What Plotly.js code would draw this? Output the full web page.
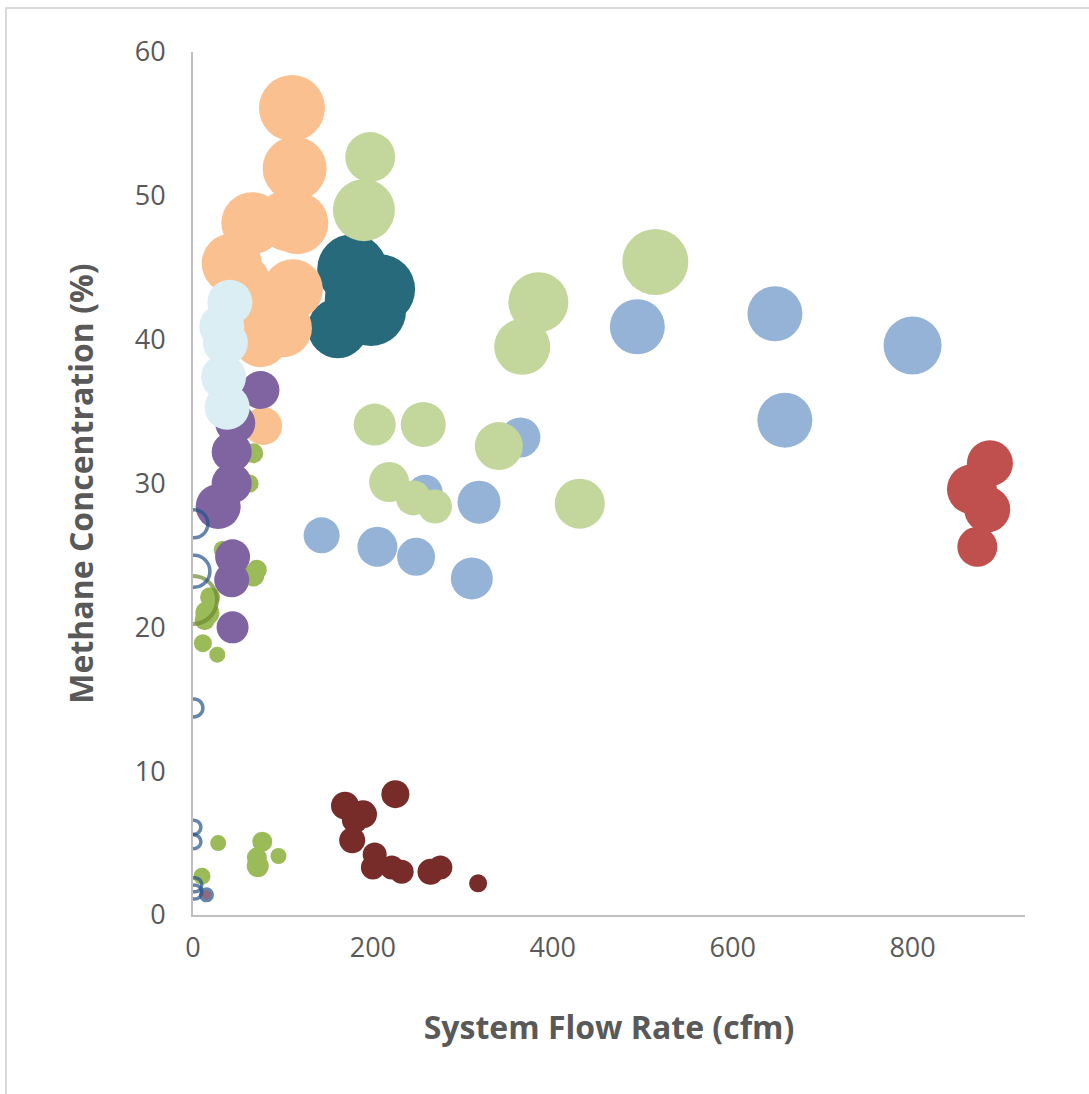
<!DOCTYPE html>
<html>
<head>
<meta charset="utf-8">
<script src="https://cdn.plot.ly/plotly-3.0.1.min.js"></script>
<style>
  html, body { margin: 0; padding: 0; background: #ffffff; overflow: hidden; }
  #frame { position: absolute; left: 5px; top: 7px; width: 1200px; height: 1200px; border: 2px solid #D9D9D9; box-sizing: border-box; }
  #chart { position: absolute; left: 0; top: 0; width: 1089px; height: 1094px; }
</style>
</head>
<body>
<div id="frame"></div>
<div id="chart"></div>
<script>
// ---- Data (flow rate cfm, methane %, bubble diameter) ----
const tealX = [177, 208, 161, 191, 198];
const tealY = [44.9, 43.5, 40.8, 42.8, 42.0];
const tealS = [70, 70, 60, 80, 70];

const blueX = [494, 647, 800, 658, 364, 258, 318, 143, 205, 248, 310];
const blueY = [40.9, 41.8, 39.6, 34.4, 33.2, 29.4, 28.7, 26.4, 25.6, 24.9, 23.4];
const blueS = [55, 55, 58, 55, 40, 35, 43, 36, 40, 38, 42];

const lgreenX = [197, 190, 514, 384, 366, 202, 256, 340, 218, 245, 269, 430];
const lgreenY = [52.7, 49.0, 45.4, 42.6, 39.5, 34.1, 34.1, 32.6, 30.1, 29.0, 28.4, 28.6];
const lgreenS = [50, 62, 66, 60, 56, 42, 45, 48, 40, 35, 34, 50];

const orangeX = [110, 113, 106, 116, 66, 43, 55, 111, 100, 75, 60, 78];
const orangeY = [56.1, 51.9, 48.3, 48.1, 48.1, 45.3, 44.0, 43.5, 40.8, 40.0, 42.0, 34.0];
const orangeS = [66, 64, 62, 62, 62, 60, 56, 60, 58, 55, 55, 38];

const redX = [886, 866, 883, 872];
const redY = [31.4, 29.6, 28.2, 25.6];
const redS = [46, 50, 46, 40];

const dredX = [169, 189, 180, 225, 177, 202, 200, 221, 232, 264, 275, 317];
const dredY = [7.6, 7.0, 6.6, 8.4, 5.2, 4.2, 3.3, 3.3, 3.0, 3.0, 3.3, 2.2];
const dredS = [28, 28, 26, 28, 26, 24, 24, 24, 24, 26, 24, 18];

const greenX = [28, 77, 95, 72, 71, 10, 67, 63, 67, 71, 33, 16, 19, 13, 27, 11];
const greenY = [5.0, 5.1, 4.1, 3.4, 4.0, 2.7, 32.1, 30.0, 23.6, 24.0, 25.4, 21.0, 22.1, 20.5, 18.1, 18.9];
const greenS = [16, 20, 16, 22, 20, 17, 20, 18, 22, 20, 18, 24, 20, 20, 16, 18];

const purpleX = [75, 47, 43, 43, 28, 44, 43, 44];
const purpleY = [36.5, 34.2, 32.2, 30.0, 28.4, 24.9, 23.3, 20.0];
const purpleS = [38, 40, 40, 40, 45, 35, 35, 32];

const paleX = [41, 32, 36, 34, 38];
const paleY = [42.6, 40.9, 39.8, 37.4, 35.3];
const paleS = [45, 45, 45, 45, 45];

const oliveRingX = [0];
const oliveRingY = [21.9];
const oliveRingS = [48];

const ringX = [1, 1, 1, 1, 1, 2, 2];
const ringY = [27.2, 23.9, 14.4, 6.1, 5.1, 2.1, 1.6];
const ringS = [28, 32, 18, 14, 14, 14, 14];

const dotX = [15];
const dotY = [1.4];
const dotS = [12];

const xTicks = [0, 200, 400, 600, 800];
const yTicks = [0, 10, 20, 30, 40, 50, 60];

function bubble(x, y, s, color) {
  return {
    type: 'scatter', mode: 'markers', x: x, y: y, hoverinfo: 'skip',
    marker: { size: s, sizemode: 'diameter', color: color, opacity: 1, line: { width: 0 } }
  };
}
function ring(x, y, s, color, w) {
  return {
    type: 'scatter', mode: 'markers', x: x, y: y, hoverinfo: 'skip',
    marker: { size: s, sizemode: 'diameter', color: 'rgba(0,0,0,0)', line: { width: w, color: color } }
  };
}

const traces = [
  bubble(tealX, tealY, tealS, '#276A7B'),
  bubble(blueX, blueY, blueS, '#95B3D7'),
  bubble(lgreenX, lgreenY, lgreenS, '#C3D69B'),
  bubble(orangeX, orangeY, orangeS, '#FAC090'),
  bubble(redX, redY, redS, '#C0504D'),
  bubble(dredX, dredY, dredS, '#772C2A'),
  bubble(greenX, greenY, greenS, '#9BBB59'),
  bubble(purpleX, purpleY, purpleS, '#8064A2'),
  bubble(paleX, paleY, paleS, '#DBEEF4'),
  ring(oliveRingX, oliveRingY, oliveRingS, '#6F8A35', 4),
  ring(ringX, ringY, ringS, '#24528A', 3.5),
  {
    type: 'scatter', mode: 'markers', x: dotX, y: dotY, hoverinfo: 'skip',
    marker: { size: dotS, color: '#5A2D4A', line: { width: 3, color: '#24528A' } }
  }
];

const tickFont = { family: 'Open Sans, Noto Sans, sans-serif', size: 27, color: '#595959' };
const titleFont = { family: 'Open Sans, Noto Sans, sans-serif', size: 32, color: '#595959', weight: 'bold' };

const layout = {
  width: 1089, height: 1094,
  margin: { l: 193, r: 64, t: 52, b: 179, pad: 0 },
  paper_bgcolor: 'rgba(0,0,0,0)',
  plot_bgcolor: 'rgba(0,0,0,0)',
  showlegend: false,
  xaxis: {
    range: [0, 925], tickvals: xTicks, ticktext: xTicks.map(String),
    showgrid: false, zeroline: false, showline: true, linecolor: '#BFBFBF', linewidth: 2,
    ticks: 'outside', ticklen: 8, tickcolor: 'rgba(0,0,0,0)',
    tickfont: tickFont, automargin: false,
    title: { text: '<b>System Flow Rate (cfm)</b>', font: titleFont, standoff: 52 }
  },
  yaxis: {
    range: [0, 60], tickvals: yTicks, ticktext: yTicks.map(String),
    showgrid: false, zeroline: false, showline: true, linecolor: '#BFBFBF', linewidth: 2,
    ticks: 'outside', ticklen: 20, tickcolor: 'rgba(0,0,0,0)',
    tickfont: tickFont, automargin: false,
    title: { text: '<b>Methane Concentration (%)</b>', font: titleFont, standoff: 32 }
  }
};

Plotly.newPlot('chart', traces, layout, { displayModeBar: false, staticPlot: true });
</script>
</body>
</html>
